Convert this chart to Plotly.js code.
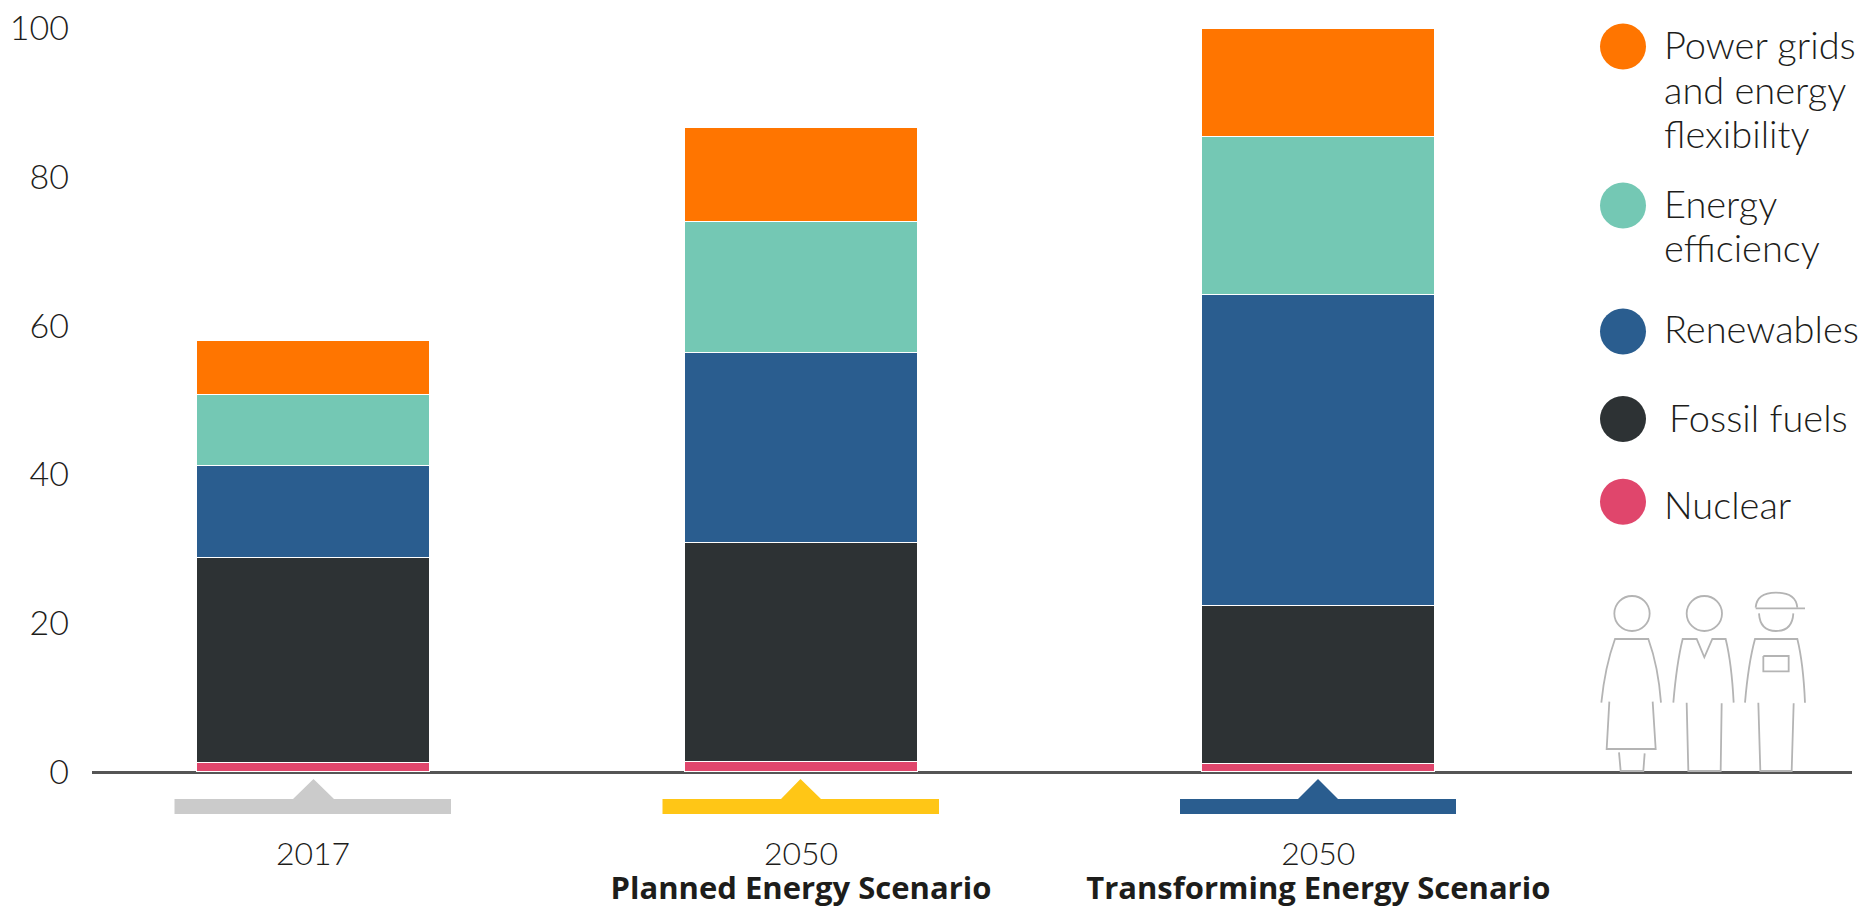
<!DOCTYPE html>
<html>
<head>
<meta charset="utf-8">
<script src="https://cdn.plot.ly/plotly-3.0.1.min.js"></script>
<style>html,body{margin:0;padding:0;background:#fff;overflow:hidden}#chart{width:1866px;height:907px}</style>
</head>
<body>
<div id="chart"></div>
<script>
// Investment shares by technology group, stacked per scenario
const yearStyle = 'font-size:32px';
const nameStyle = 'font-size:31px;font-family:Open Sans';
const scenarioLabels = [
  `<span style="${yearStyle}">2017</span>`,
  `<span style="${yearStyle}">2050</span><br><b><span style="${nameStyle}">Planned Energy Scenario</span></b>`,
  `<span style="${yearStyle}">2050</span><br><b><span style="${nameStyle}">Transforming Energy Scenario</span></b>`
];
const nuclear    = [1.2, 1.4, 1.1];
const fossil     = [27.6, 29.4, 21.2];
const renewables = [12.3, 25.5, 41.8];
const efficiency = [9.6, 17.6, 21.3];
const grids      = [7.2, 12.7, 14.4];
const yTicks     = [0, 20, 40, 60, 80, 100];

const W = 1866, H = 907;
const M = {l: 92, r: 14, t: 28, b: 135};
const FONT = 'Lato, "Open Sans", sans-serif';
const INK = '#1d1d1b';

// The third column sits a little further out than the regular spacing
const slots = [0, 1, 2.06];
const barWidth = 0.4775;

const colors = {
  nuclear: '#E0466C', fossil: '#2D3234', renewables: '#2A5D8F',
  efficiency: '#74C8B4', grids: '#FF7500'
};

const seriesDefs = [
  ['Nuclear', nuclear, colors.nuclear],
  ['Fossil fuels', fossil, colors.fossil],
  ['Renewables', renewables, colors.renewables],
  ['Energy efficiency', efficiency, colors.efficiency],
  ['Power grids and energy flexibility', grids, colors.grids]
];

const traces = seriesDefs.map(([name, y, color]) => ({
  type: 'bar', name, x: slots, y, width: barWidth,
  marker: {color, line: {color: '#ffffff', width: 1.2}},
  hoverinfo: 'name+y'
}));

// Page-pixel helpers for everything drawn outside the plotting area
const px = x => (x - M.l) / (W - M.l - M.r);
const py = y => 1 - (y - M.t) / (H - M.t - M.b);
const paperShape = o => Object.assign({xref: 'paper', yref: 'paper'}, o);

const shapes = [];

// Scenario brackets under the axis: band with a small pointer
[[174.5, 451, 293, 313.5, 334, '#CBCBCB'],
 [662.5, 939, 781, 800.5, 821, '#FFC616'],
 [1180, 1456, 1298, 1318, 1338, '#2A5D8F']].forEach(([l, r, a, m, b, c]) => {
  const d = [[l,814],[l,799],[a,799],[m,779],[b,799],[r,799],[r,814]]
    .map((p, i) => (i ? 'L' : 'M') + px(p[0]) + ',' + py(p[1])).join(' ') + ' Z';
  shapes.push(paperShape({type: 'path', path: d, fillcolor: c, line: {width: 0}}));
});

// Legend dots
const legendDots = [[46.5, colors.grids], [205.6, colors.efficiency], [331.6, colors.renewables], [419, colors.fossil], [501.7, colors.nuclear]];
legendDots.forEach(([cy, c]) => shapes.push(paperShape({
  type: 'circle', x0: px(1623 - 23), x1: px(1623 + 23), y0: py(cy + 23), y1: py(cy - 23),
  fillcolor: c, line: {width: 0}
})));

// Outline figures next to the legend, authored on a 3x grid anchored at (1560,570)
const fx = v => px(1560 + v / 3);
const fy = v => py(570 + v / 3);
function figurePath(cmds) {
  return cmds.map(([op, ...n]) => {
    const out = [];
    for (let i = 0; i < n.length; i += 2) out.push(fx(n[i]) + ',' + fy(n[i + 1]));
    return op + out.join(' ');
  }).join(' ');
}
const outlines = [
  [['M',124,398],['Q',135,290,165,207],['L',265,207],['Q',295,290,303,398]],
  [['M',148,395],['L',140,537],['L',287,537],['L',278,395]],
  [['M',177,547],['L',182,603],['L',250,603],['L',254,550]],
  [['M',340,398],['Q',350,280,368,207],['L',410,207],['L',433,262],['L',457,207],['L',497,207],['Q',515,280,521,398]],
  [['M',380,398],['L',385,603],['L',482,603],['L',485,400]],
  [['M',587,113],['Q',590,68,648,68],['Q',708,68,712,113]],
  [['M',587,115],['L',735,115]],
  [['M',597,130],['Q',600,183,648,183],['Q',697,183,700,130]],
  [['M',555,398],['Q',565,280,585,207],['L',712,207],['Q',730,280,735,398]],
  [['M',610,258],['L',686,258],['L',686,304],['L',610,304],['L',610,258]],
  [['M',595,398],['L',601,603],['L',695,603],['L',701,400]]
];
const figLine = {color: '#b4b4b4', width: 1.8};
outlines.forEach(cmds => shapes.push(paperShape({type: 'path', path: figurePath(cmds), line: figLine})));
[216, 433].forEach(cx => shapes.push(paperShape({
  type: 'circle', x0: fx(cx - 53), x1: fx(cx + 53), y0: fy(183), y1: fy(78), line: figLine
})));

// Legend text
const legendSize = 38;
const legendLabels = [
  ['Power grids', 1662, 43.5], ['and energy', 1662, 89.5], ['flexibility', 1662, 133],
  ['Energy', 1662, 203.5], ['efficiency', 1662, 247],
  ['Renewables', 1662, 328.5], ['Fossil fuels', 1667, 416.5], ['Nuclear', 1662, 503.5]
];
const annotations = legendLabels.map(([text, x, y]) => ({
  text, xref: 'paper', yref: 'paper', x: px(x), y: py(y),
  xanchor: 'left', yanchor: 'middle', showarrow: false,
  font: {family: FONT, size: legendSize, color: INK, weight: 300}
}));

const layout = {
  width: W, height: H,
  margin: Object.assign({pad: 0}, M),
  paper_bgcolor: '#fff', plot_bgcolor: '#fff',
  barmode: 'stack', showlegend: false, bargap: 0,
  xaxis: {
    range: [-0.4529, 3.1537], showgrid: false, zeroline: false,
    showline: false, tickmode: 'array', tickvals: slots, ticktext: scenarioLabels,
    ticks: '', ticklabelstandoff: 66, tickangle: 0,
    tickfont: {family: FONT, size: 26, color: INK, weight: 300}
  },
  yaxis: {
    range: [0, 100], showgrid: false, tickmode: 'array', tickvals: yTicks,
    zeroline: true, zerolinecolor: '#555555', zerolinewidth: 2.5,
    showline: false, ticks: '', ticklabelstandoff: 22, ticklabelshift: -3.5,
    tickfont: {family: FONT, size: 34, color: INK, weight: 300}
  },
  shapes, annotations
};

Plotly.newPlot('chart', traces, layout, {displayModeBar: false, responsive: false});
</script>
</body>
</html>
